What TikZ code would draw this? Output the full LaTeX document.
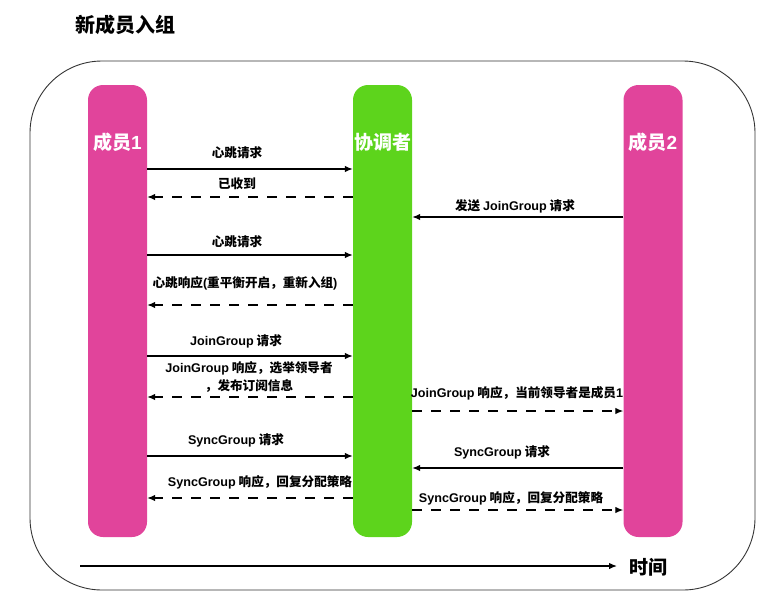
\documentclass[tikz,border=0pt]{standalone}
\usepackage{fontspec}
\setmainfont{Noto Sans CJK SC}
\newfontfamily\lat{Liberation Sans}
\usetikzlibrary{arrows.meta}
\definecolor{mpink}{HTML}{E1449B}
\definecolor{cgreen}{HTML}{5DD41C}
\definecolor{frame}{HTML}{333333}
\tikzset{
  bar/.style={rounded corners=15pt, minimum width=59pt, minimum height=452pt, inner sep=0pt, draw=none},
  bartext/.style={text=white, font=\fontsize{19}{21}\selectfont\bfseries},
  lbl/.style={font=\fontsize{12.6}{18}\selectfont\bfseries, inner sep=0pt, align=center},
  msg/.style={line width=1.3pt, -{Latex[length=8pt,width=6.5pt]}},
  rsp/.style={msg, dash pattern=on 10pt off 9pt},
}
\begin{document}
\begin{tikzpicture}[x=1pt,y=-1pt]
\useasboundingbox (0,0) rectangle (771,603);
% title
\node[font=\fontsize{20}{22}\selectfont\bfseries, inner sep=0pt] (title) at (125,25) {新成员入组};
% frame
\draw[frame, line width=0.9pt, rounded corners=72pt] (30,61) rectangle (755,590);
% bars
\node[bar, fill=mpink] (m1) at (117.5,311) {};
\node[bar, fill=cgreen] (co) at (382.5,311) {};
\node[bar, fill=mpink] (m2) at (653,311) {};
\node[bartext] (m1t) at (117.5,142) {成员{\lat 1}};
\node[bartext] (cot) at (382.5,142) {协调者};
\node[bartext] (m2t) at (653,142) {成员{\lat 2}};
% row coordinates
\foreach \n/\y in {a/169,b/197,c/217,d/255,e/305,f/356,g/397,h/411,i/456,j/468,k/498,l/510}
  \coordinate (r\n) at (0,\y);
% messages
\draw[msg] (m1.east |- ra) -- (co.west |- ra);
\node[lbl] (la) at (237,153) {心跳请求};
\draw[rsp] (co.west |- rb) -- (m1.east |- rb);
\node[lbl] (lb) at (237,184) {已收到};
\draw[msg] (m2.west |- rc) -- (co.east |- rc);
\node[lbl] (lc) at (515,206) {发送 {\lat JoinGroup} 请求};
\draw[msg] (m1.east |- rd) -- (co.west |- rd);
\node[lbl] (ld) at (237,242) {心跳请求};
\draw[rsp] (co.west |- re) -- (m1.east |- re);
\node[lbl] (le) at (245,283) {心跳响应{\lat (}重平衡开启，重新入组{\lat )}};
\draw[msg] (m1.east |- rf) -- (co.west |- rf);
\node[lbl] (lf) at (236,341) {{\lat JoinGroup} 请求};
\draw[rsp] (co.west |- rg) -- (m1.east |- rg);
\node[lbl] (lg) at (249,377) {{\lat JoinGroup} 响应，选举领导者\\，发布订阅信息};
\draw[rsp] (co.east |- rh) -- (m2.west |- rh);
\node[lbl] (lh) at (517,393) {{\lat JoinGroup} 响应，当前领导者是成员{\lat 1}};
\draw[msg] (m1.east |- ri) -- (co.west |- ri);
\node[lbl] (li) at (236,440) {{\lat SyncGroup} 请求};
\draw[msg] (m2.west |- rj) -- (co.east |- rj);
\node[lbl] (lj) at (502,452) {{\lat SyncGroup} 请求};
\draw[rsp] (co.west |- rk) -- (m1.east |- rk);
\node[lbl] (lk) at (260,482) {{\lat SyncGroup} 响应，回复分配策略};
\draw[rsp] (co.east |- rl) -- (m2.west |- rl);
\node[lbl] (ll) at (511,498) {{\lat SyncGroup} 响应，回复分配策略};
% time axis
\coordinate (t0) at (80,566);
\node[font=\fontsize{19}{21}\selectfont\bfseries, inner sep=0pt] (time) at (648,567) {时间};
\draw[line width=1.3pt, -{Latex[length=8pt,width=6.5pt]}] (t0) -- (617,566);
\end{tikzpicture}
\end{document}
